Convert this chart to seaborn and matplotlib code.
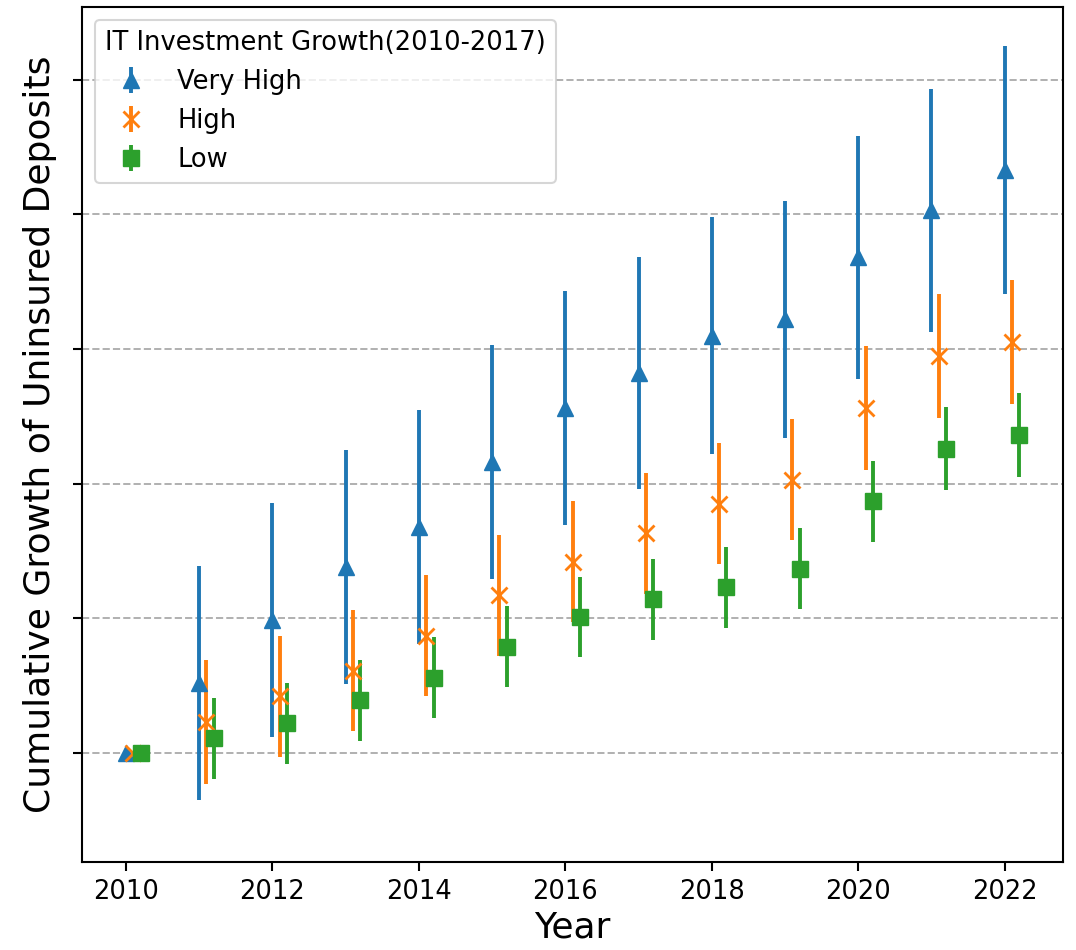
import numpy as np
import matplotlib
matplotlib.use("Agg")
import matplotlib.pyplot as plt
import seaborn as sns

years = np.arange(2010, 2023)
groups = ["Very High", "High", "Low"]

very_high = [0.000, 0.052, 0.099, 0.138, 0.168, 0.216, 0.256, 0.282, 0.310, 0.322, 0.368, 0.403, 0.433]
very_high_err = [0.0, 0.087, 0.087, 0.087, 0.087, 0.087, 0.087, 0.086, 0.088, 0.088, 0.090, 0.090, 0.092]

high = [0.000, 0.023, 0.042, 0.061, 0.087, 0.117, 0.142, 0.163, 0.185, 0.203, 0.256, 0.295, 0.305]
high_err = [0.0, 0.046, 0.045, 0.045, 0.045, 0.045, 0.045, 0.045, 0.045, 0.045, 0.046, 0.046, 0.046]

low = [0.000, 0.011, 0.022, 0.039, 0.056, 0.079, 0.101, 0.114, 0.123, 0.137, 0.187, 0.226, 0.236]
low_err = [0.0, 0.030, 0.030, 0.030, 0.030, 0.030, 0.030, 0.030, 0.030, 0.030, 0.030, 0.031, 0.031]

sns.set_theme(style="ticks", rc={
    "text.color": "black",
    "axes.labelcolor": "black",
    "xtick.color": "black",
    "ytick.color": "black",
    "axes.edgecolor": "black",
})
plt.rcParams["font.family"] = ["DejaVu Sans"]
palette = sns.color_palette("tab10", 3)

fig = plt.figure(figsize=(10.76, 9.5), dpi=100)
ax = fig.add_axes([0.0762, 0.0926, 0.912, 0.900])

series = [
    (very_high, very_high_err, "^", 0.0),
    (high, high_err, "x", 0.1),
    (low, low_err, "s", 0.2),
]
for (vals, errs, marker, shift), name, color in zip(series, groups, palette):
    ax.errorbar(years + shift, vals, yerr=errs, fmt=marker, color=color,
                markersize=11, elinewidth=2.8, capsize=0, label=name,
                markeredgewidth=2.0 if marker == "x" else 1.0)

ax.set_xlim(2009.4, 2022.8)
ax.set_ylim(-0.081, 0.554)
ax.set_xticks(np.arange(2010, 2023, 2))
ax.set_yticks(np.arange(0, 0.51, 0.1))
ax.set_yticklabels([])
ax.yaxis.grid(True, linestyle="--", color="#b0b0b0", linewidth=1.4)
ax.tick_params(axis="x", labelsize=18.5, length=6.5, width=1.5, pad=6)
ax.tick_params(axis="y", length=6.5, width=1.5)
for s in ax.spines.values():
    s.set_color("black")
    s.set_linewidth(1.5)

ax.set_xlabel("Year", fontsize=26, labelpad=4)
ax.set_ylabel("Cumulative Growth of Uninsured Deposits", fontsize=26, labelpad=8)

leg = ax.legend(title="IT Investment Growth(2010-2017)", loc="upper left",
                fontsize=18.5, title_fontsize=18.5, frameon=True,
                borderaxespad=0.5, alignment="left")
leg.get_frame().set_edgecolor("#cccccc")
leg.get_frame().set_linewidth(1.5)

fig.savefig("out.png", dpi=100)
